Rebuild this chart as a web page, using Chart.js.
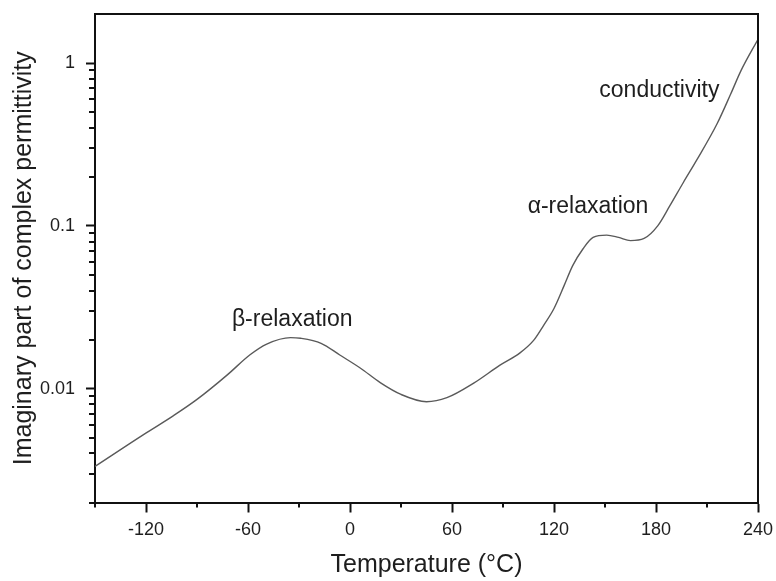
<!DOCTYPE html>
<html>
<head>
<meta charset="utf-8">
<script src="https://cdn.jsdelivr.net/npm/chart.js@4.4.1/dist/chart.umd.min.js"></script>
<style>
  html, body { margin: 0; padding: 0; background: #fff; }
  #wrap { width: 776px; height: 581px; position: relative; }
</style>
</head>
<body>
<div id="wrap"><canvas id="c" width="776" height="581"></canvas></div>
<script>
// ---- Data ----
const temperatures = [-150, -121, -104, -90, -72, -59, -49, -35, -29, -17, -6, 6, 18, 30, 45, 57, 73, 88, 100, 108, 114, 120, 126, 131, 137, 143, 151, 158, 165, 173, 181, 188, 196, 204, 216, 224, 230, 240];
const permittivity = [0.00333, 0.00526, 0.00681, 0.00859, 0.0122, 0.0161, 0.0188, 0.0206, 0.0204, 0.0190, 0.0161, 0.0134, 0.01086, 0.00922, 0.00832, 0.00881, 0.01086, 0.0139, 0.0166, 0.0198, 0.0246, 0.0311, 0.0431, 0.0570, 0.0721, 0.0849, 0.0877, 0.0849, 0.0812, 0.0837, 0.100, 0.132, 0.184, 0.254, 0.425, 0.647, 0.898, 1.40];

const xMajorTicks = [-120, -60, 0, 60, 120, 180, 240];
const xMinorTicks = [-150, -90, -30, 30, 90, 150, 210];
const yMajorTicks = [0.01, 0.1, 1];
const yMajorLabels = ['0.01', '0.1', '1'];
const yMinorTicks = [0.002, 0.003, 0.004, 0.005, 0.006, 0.007, 0.008, 0.009,
                     0.02, 0.03, 0.04, 0.05, 0.06, 0.07, 0.08, 0.09,
                     0.2, 0.3, 0.4, 0.5, 0.6, 0.7, 0.8, 0.9];

const annotationTexts = ['\u03B2-relaxation', '\u03B1-relaxation', 'conductivity'];
const annotationX = [-34, 140, 182];
const annotationY = [0.0265, 0.1316, 0.675];

const xTitle = 'Temperature (\u00B0C)';
const yTitle = 'Imaginary part of complex permittivity';

// ---- Chart ----
const FONT = "'Liberation Sans', Arial, sans-serif";
const TEXT = '#1e1e1e';

function isMajorY(v) {
  return yMajorTicks.findIndex(m => Math.abs(v - m) / m < 1e-6);
}

const decorations = {
  id: 'decorations',
  afterDatasetsDraw(chart) {
    const ctx = chart.ctx;
    const xs = chart.scales.x, ys = chart.scales.y;
    ctx.save();
    ctx.fillStyle = TEXT;
    ctx.font = '23px ' + FONT;
    ctx.textAlign = 'center';
    ctx.textBaseline = 'middle';
    for (let i = 0; i < annotationTexts.length; i++) {
      ctx.fillText(annotationTexts[i], xs.getPixelForValue(annotationX[i]), ys.getPixelForValue(annotationY[i]));
    }
    ctx.restore();
  },
  afterDraw(chart) {
    const ctx = chart.ctx;
    const {left, right, top, bottom} = chart.chartArea;
    const xs = chart.scales.x, ys = chart.scales.y;
    ctx.save();
    ctx.strokeStyle = '#111';
    ctx.lineWidth = 2;
    ctx.beginPath();
    ctx.moveTo(left - 1, top);
    ctx.lineTo(right, top);
    ctx.lineTo(right, bottom + 1);
    ctx.stroke();
    ctx.beginPath();
    xMinorTicks.forEach(v => {
      const px = Math.round(xs.getPixelForValue(v));
      ctx.moveTo(px, bottom);
      ctx.lineTo(px, bottom + 5);
    });
    yMinorTicks.forEach(v => {
      const py = Math.round(ys.getPixelForValue(v));
      ctx.moveTo(left, py);
      ctx.lineTo(left - 6, py);
    });
    ctx.stroke();
    ctx.restore();
  }
};

function clearPadding(scale) {
  scale.paddingTop = 0;
  scale.paddingBottom = 0;
  scale.paddingLeft = 0;
  scale.paddingRight = 0;
}

new Chart(document.getElementById('c'), {
  type: 'line',
  data: {
    datasets: [{
      data: temperatures.map((t, i) => ({x: t, y: permittivity[i]})),
      borderColor: '#5a5a5a',
      borderWidth: 1.4,
      pointRadius: 0,
      fill: false,
      cubicInterpolationMode: 'monotone'
    }]
  },
  options: {
    responsive: false,
    animation: false,
    events: [],
    layout: { padding: { top: 14, right: 18, left: 0, bottom: 0 } },
    plugins: { legend: { display: false }, tooltip: { enabled: false } },
    scales: {
      x: {
        type: 'linear',
        min: -150,
        max: 240,
        afterBuildTicks(scale) {
          scale.ticks = xMajorTicks.map(v => ({value: v}));
        },
        afterFit(scale) { scale.height = 78.5; clearPadding(scale); },
        ticks: {
          autoSkip: false,
          maxRotation: 0,
          padding: 7,
          color: TEXT,
          font: { family: FONT, size: 18 },
          callback: (v) => String(v)
        },
        grid: {
          drawOnChartArea: false,
          tickLength: 10,
          tickWidth: 2,
          tickColor: '#111'
        },
        border: { color: '#111', width: 2 },
        title: {
          display: true,
          text: xTitle,
          color: TEXT,
          font: { family: FONT, size: 25 },
          padding: { top: 0, bottom: 1 }
        }
      },
      y: {
        type: 'logarithmic',
        min: 0.002,
        max: 2,
        afterBuildTicks(scale) {
          scale.ticks = yMajorTicks.map(v => ({value: v, major: true}));
        },
        afterFit(scale) { scale.width = 95; clearPadding(scale); },
        ticks: {
          autoSkip: false,
          padding: 11,
          color: TEXT,
          font: { family: FONT, size: 18 },
          callback: (v) => { const k = isMajorY(v); return k >= 0 ? yMajorLabels[k] : ''; }
        },
        grid: {
          drawOnChartArea: false,
          tickLength: 9,
          tickWidth: 2,
          tickColor: '#111'
        },
        border: { color: '#111', width: 2 },
        title: {
          display: true,
          text: yTitle,
          color: TEXT,
          font: { family: FONT, size: 25 },
          padding: { top: 9, bottom: 0 }
        }
      }
    }
  },
  plugins: [decorations]
});
</script>
</body>
</html>
